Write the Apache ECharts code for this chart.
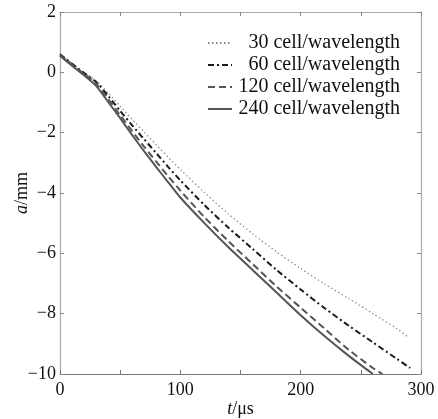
<!DOCTYPE html>
<html>
<head>
<meta charset="utf-8">
<script src="https://cdn.jsdelivr.net/npm/echarts@6/dist/echarts.min.js"></script>
<style>
  html, body { margin: 0; padding: 0; background: #fff; }
  #root { width: 438px; height: 419px; }
</style>
</head>
<body>
<div id="root"></div>
<script>
// t in microseconds, a in mm
const names = ['30 cell/wavelength', '60 cell/wavelength', '120 cell/wavelength', '240 cell/wavelength']

const t30 = [0, 10, 20, 30, 40, 50, 60, 70, 80, 90, 100, 120, 140, 160, 180, 200, 220, 240, 260, 280, 290]
const a30 = [0.62, 0.3, 0.0, -0.28, -0.68, -1.12, -1.56, -1.98, -2.4, -2.82, -3.22, -3.98, -4.7, -5.35, -5.95, -6.5, -7.02, -7.5, -8.0, -8.5, -8.8]

const t60 = [0, 10, 20, 30, 40, 50, 60, 70, 80, 90, 100, 120, 140, 160, 180, 200, 220, 240, 260, 280, 291]
const a60 = [0.6, 0.28, -0.02, -0.32, -0.78, -1.28, -1.76, -2.22, -2.68, -3.14, -3.58, -4.4, -5.15, -5.85, -6.55, -7.2, -7.82, -8.4, -8.95, -9.5, -9.8]

const t120 = [0, 10, 20, 30, 40, 50, 60, 70, 80, 90, 100, 120, 140, 160, 180, 200, 220, 240, 260, 268]
const a120 = [0.57, 0.25, -0.05, -0.38, -0.88, -1.42, -1.95, -2.47, -2.96, -3.45, -3.92, -4.8, -5.6, -6.35, -7.1, -7.8, -8.5, -9.2, -9.8, -10.0]

const t240 = [0, 10, 20, 30, 40, 50, 60, 70, 80, 90, 100, 120, 140, 160, 180, 200, 220, 240, 260]
const a240 = [0.55, 0.22, -0.1, -0.45, -0.98, -1.52, -2.08, -2.62, -3.14, -3.65, -4.15, -5.0, -5.8, -6.55, -7.3, -8.05, -8.75, -9.4, -10.0]

const xTicks = [0, 100, 200, 300]
const yTicks = [-10, -8, -6, -4, -2, 0, 2]

const zip = (xs, ys) => xs.map((x, i) => [x, ys[i]])

const font = '"Liberation Serif", "DejaVu Serif", serif'
const minus = v => String(v).replace('-', '\u2212')

const styles = [
  { color: '#8a8a8a', width: 1.2, type: [1.5, 2.5] },
  { color: '#1a1a1a', width: 2, type: [6, 3, 2, 3] },
  { color: '#555', width: 2, type: [7, 4] },
  { color: '#555', width: 2, type: 'solid' }
]

const dataSets = [zip(t30, a30), zip(t60, a60), zip(t120, a120), zip(t240, a240)]

const chart = echarts.init(document.getElementById('root'))

const option = {
  backgroundColor: '#fff',
  animation: false,
  grid: { left: 60, right: 17, top: 12, bottom: 45, outerBoundsMode: 'none' },
  legend: {
    right: 33,
    top: 28,
    orient: 'vertical',
    itemWidth: 24,
    itemHeight: 14,
    itemGap: 2,
    data: names,
    itemStyle: { color: 'rgba(0,0,0,0)', borderWidth: 0 },
    formatter: name => '{n|' + name + '}',
    textStyle: {
      fontFamily: font,
      fontSize: 20,
      color: '#111',
      rich: {
        n: { fontFamily: font, fontSize: 20, lineHeight: 20, width: 163, align: 'right', color: '#111' }
      }
    }
  },
  xAxis: [
    {
      type: 'value',
      min: 0,
      max: 300,
      interval: 50,
      name: '{i|t}/\u03bcs',
      nameLocation: 'middle',
      nameGap: 26,
      nameMoveOverlap: false,
      nameTextStyle: {
        fontFamily: font,
        fontSize: 18,
        color: '#111',
        rich: { i: { fontStyle: 'italic', fontFamily: font, fontSize: 18 } }
      },
      axisLine: { onZero: false, lineStyle: { color: '#777', width: 1.2 } },
      axisTick: { inside: true, length: 4, lineStyle: { color: '#777' } },
      axisLabel: {
        fontFamily: font,
        fontSize: 18,
        color: '#111',
        margin: 7,
        formatter: v => (xTicks.indexOf(v) >= 0 ? minus(v) : '')
      },
      splitLine: { show: false }
    },
    {
      type: 'value',
      position: 'top',
      min: 0,
      max: 300,
      interval: 50,
      axisLine: { show: true, onZero: false, lineStyle: { color: '#aaa', width: 1.2 } },
      axisTick: { inside: true, length: 4, lineStyle: { color: '#888' } },
      axisLabel: { show: false },
      splitLine: { show: false }
    }
  ],
  yAxis: [
    {
      type: 'value',
      min: -10,
      max: 2,
      interval: 2,
      name: '{i|a}/mm',
      nameLocation: 'middle',
      nameRotate: 90,
      nameGap: 29,
      nameMoveOverlap: false,
      nameTextStyle: {
        fontFamily: font,
        fontSize: 18,
        color: '#111',
        rich: { i: { fontStyle: 'italic', fontFamily: font, fontSize: 18 } }
      },
      axisLine: { onZero: false, lineStyle: { color: '#aaa', width: 1.2 } },
      axisTick: { inside: true, length: 4, lineStyle: { color: '#888' } },
      axisLabel: {
        fontFamily: font,
        fontSize: 18,
        color: '#111',
        margin: 4,
        formatter: v => (yTicks.indexOf(v) >= 0 ? minus(v) : '')
      },
      splitLine: { show: false }
    },
    {
      type: 'value',
      position: 'right',
      min: -10,
      max: 2,
      interval: 2,
      axisLine: { show: true, onZero: false, lineStyle: { color: '#aaa', width: 1.2 } },
      axisTick: { inside: true, length: 4, lineStyle: { color: '#888' } },
      axisLabel: { show: false },
      splitLine: { show: false }
    }
  ],
  series: names.map((name, i) => ({
    name,
    type: 'line',
    data: dataSets[i],
    smooth: 0.25,
    symbol: 'none',
    showSymbol: false,
    lineStyle: styles[i],
    itemStyle: { color: styles[i].color },
    z: 2 + i
  }))
}

chart.setOption(option)
</script>
</body>
</html>
